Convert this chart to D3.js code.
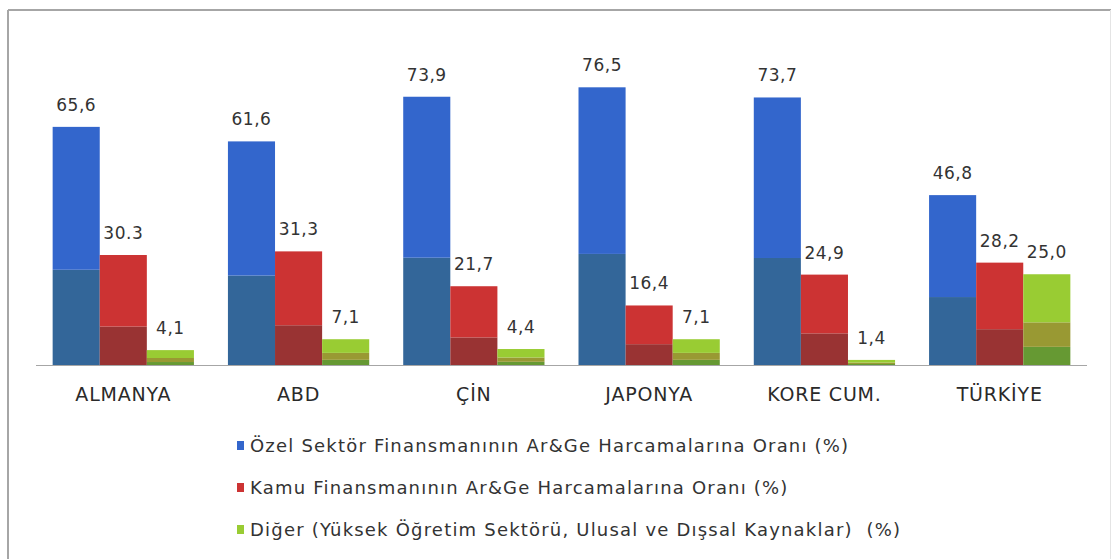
<!DOCTYPE html>
<html>
<head>
<meta charset="utf-8">
<script src="https://cdn.jsdelivr.net/npm/d3@7"></script>
<style>
  body { margin: 0; background: #fff; }
  text { font-family: "DejaVu Sans", sans-serif; fill: #333; }
</style>
</head>
<body>
<div id="chart"></div>
<script>
var w = 1113;
var h = 559;

// data
var countries = ["ALMANYA", "ABD", "ÇİN", "JAPONYA", "KORE CUM.", "TÜRKİYE"];
var seriesNames = [
  "Özel Sektör Finansmanının Ar&Ge Harcamalarına Oranı (%)",
  "Kamu Finansmanının Ar&Ge Harcamalarına Oranı (%)",
  "Diğer (Yüksek Öğretim Sektörü, Ulusal ve Dışsal Kaynaklar)  (%)"
];
var ozel = [65.6, 61.6, 73.9, 76.5, 73.7, 46.8];
var kamu = [30.3, 31.3, 21.7, 16.4, 24.9, 28.2];
var diger = [4.1, 7.1, 4.4, 7.1, 1.4, 25.0];
var ozelLabels = ["65,6", "61,6", "73,9", "76,5", "73,7", "46,8"];
var kamuLabels = ["30.3", "31,3", "21,7", "16,4", "24,9", "28,2"];
var digerLabels = ["4,1", "7,1", "4,4", "7,1", "1,4", "25,0"];

// shading of each bar: bottom-up fractions and colours
var series = [
  { name: seriesNames[0], values: ozel, labels: ozelLabels,
    stops: [0, 0.4, 1], colors: ["#336699", "#3366cc"] },
  { name: seriesNames[1], values: kamu, labels: kamuLabels,
    stops: [0, 0.35, 1], colors: ["#993333", "#cc3333"] },
  { name: seriesNames[2], values: diger, labels: digerLabels,
    stops: [0, 0.2, 0.47, 1], colors: ["#669933", "#999933", "#99cc33"] }
];

var svg = d3.select("#chart")
            .append("svg")
            .attr("width", w)
            .attr("height", h);

// frame
svg.append("line").attr("x1", 8).attr("x2", 1111).attr("y1", 10).attr("y2", 10)
   .attr("stroke", "#a6a6a6").attr("stroke-width", 2);
svg.append("line").attr("x1", 8).attr("x2", 8).attr("y1", 10).attr("y2", h)
   .attr("stroke", "#a6a6a6").attr("stroke-width", 2);
svg.append("line").attr("x1", 1110.5).attr("x2", 1110.5).attr("y1", 10).attr("y2", h)
   .attr("stroke", "#e4e4e4").attr("stroke-width", 1);

// scales
var x0 = d3.scaleBand()
    .domain(countries)
    .range([36, 1087])
    .paddingInner(0.194)
    .paddingOuter(0.095);
var x1 = d3.scaleBand()
    .domain(d3.range(series.length))
    .range([0, x0.bandwidth()]);
var y = d3.scaleLinear()
    .domain([0, 100])
    .range([365, 2]);

// bars
var groups = svg.selectAll(".group")
    .data(countries)
    .enter()
    .append("g")
    .attr("class", "group")
    .attr("transform", (d) => "translate(" + x0(d) + ",0)");

series.forEach(function(s, si) {
    groups.each(function(c, ci) {
        var g = d3.select(this);
        var v = s.values[ci];
        for (var k = 0; k < s.colors.length; k++) {
            var lo = v * s.stops[k];
            var hi = v * s.stops[k + 1];
            g.append("rect")
             .attr("x", x1(si))
             .attr("width", x1.bandwidth())
             .attr("y", y(hi))
             .attr("height", y(lo) - y(hi))
             .attr("fill", s.colors[k]);
        }
        g.append("text")
         .attr("x", x1(si) + x1.bandwidth() / 2)
         .attr("y", y(v) - 16)
         .attr("text-anchor", "middle")
         .style("font-size", "17px")
         .style("letter-spacing", "0.5px")
         .text(s.labels[ci]);
    });
});

// x axis line
svg.append("line")
   .attr("x1", 36).attr("x2", 1087)
   .attr("y1", y(0) + 0.5).attr("y2", y(0) + 0.5)
   .attr("stroke", "#a6a6a6");

// category labels
svg.selectAll(".cat")
   .data(countries)
   .enter()
   .append("text")
   .attr("class", "cat")
   .attr("x", (d) => x0(d) + x0.bandwidth() / 2)
   .attr("y", 401)
   .attr("text-anchor", "middle")
   .style("font-size", "19px")
   .style("letter-spacing", "0.8px")
   .style("fill", "#2a2a2a")
   .text((d) => d);

// legend
var legend = svg.selectAll(".legend")
    .data(series)
    .enter()
    .append("g")
    .attr("class", "legend")
    .attr("transform", (d, i) => "translate(237," + (446 + i * 42) + ")");
legend.append("rect")
    .attr("x", 0).attr("y", -5)
    .attr("width", 7).attr("height", 9)
    .attr("fill", (d) => d.colors[d.colors.length - 1]);
legend.append("text")
    .attr("x", 13)
    .attr("y", 6)
    .style("font-size", "18px")
    .style("letter-spacing", "1.2px")
    .style("white-space", "pre")
    .text((d) => d.name);
</script>
</body>
</html>
